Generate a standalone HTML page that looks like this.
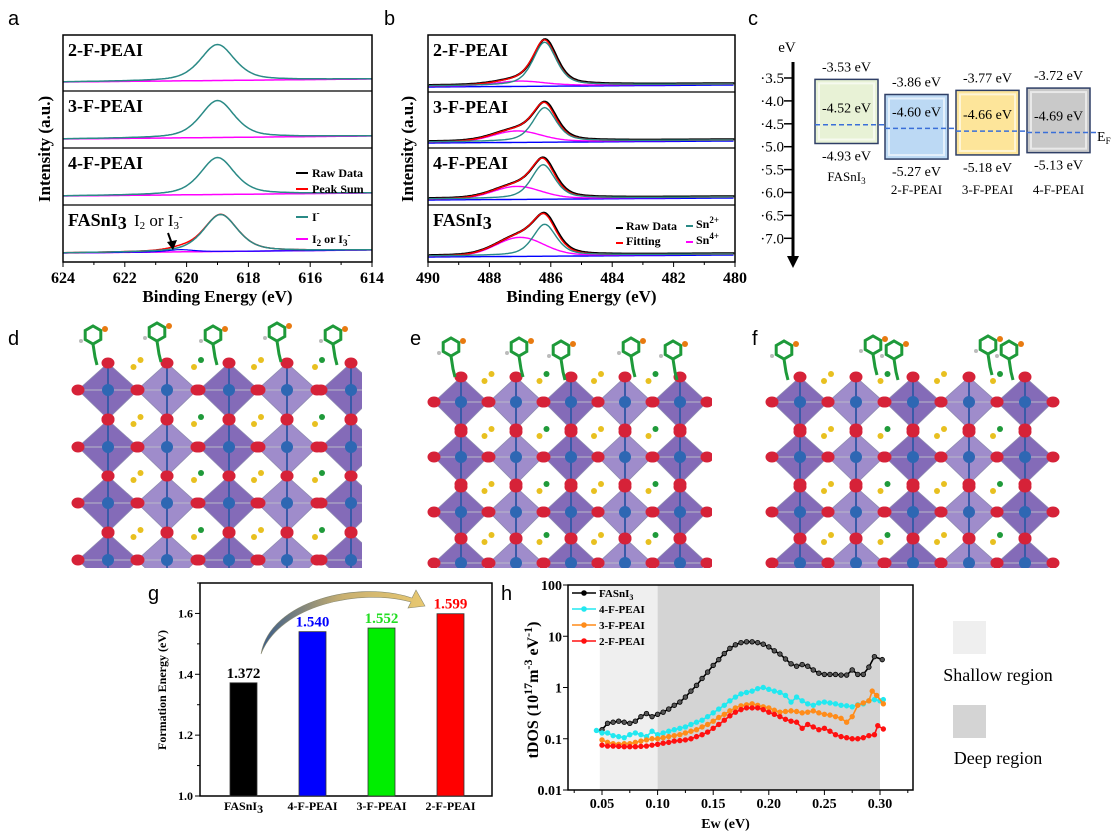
<!DOCTYPE html>
<html><head><meta charset="utf-8">
<style>
html,body{margin:0;padding:0;background:#fff;}
svg{display:block;font-family:"Liberation Serif",serif;}
.lab{font-family:"Liberation Sans",sans-serif;font-size:20px;}
</style></head>
<body>
<svg id="fig" width="1116" height="833" viewBox="0 0 1116 833" xmlns="http://www.w3.org/2000/svg">
<g id="pa"></g>
<g id="pb"></g>
<g id="pc"></g>
<g id="pd"></g>
<g id="pg"></g>
<g id="ph"></g>
</svg>
<script>
// ---------- data ----------
const aSamples = ["2-F-PEAI","3-F-PEAI","4-F-PEAI","FASnI3"];
const aIPeakCenter = [619.0, 619.0, 619.0, 618.9];
const aI3PeakHeight = [0, 0, 0, 0.06];
const bSamples = ["2-F-PEAI","3-F-PEAI","4-F-PEAI","FASnI3"];
const bSn2Height = [1.0, 0.80, 0.78, 0.72];
const bSn4Height = [0.10, 0.25, 0.28, 0.42];
const bSn2Center = [486.2, 486.2, 486.25, 486.2];
const bSn4Center = [487.0, 487.1, 487.1, 487.0];
const cNames = ["FASnI3","2-F-PEAI","3-F-PEAI","4-F-PEAI"];
const cCBM = [-3.53, -3.86, -3.77, -3.72];
const cVBM = [-4.93, -5.27, -5.18, -5.13];
const cEF = [-4.52, -4.60, -4.66, -4.69];
const cTicks = [-3.5,-4.0,-4.5,-5.0,-5.5,-6.0,-6.5,-7.0];
const gCats = ["FASnI3","4-F-PEAI","3-F-PEAI","2-F-PEAI"];
const gVals = [1.372, 1.540, 1.552, 1.599];
const gTicks = [1.0,1.2,1.4,1.6];
const hTicksX = [0.05,0.10,0.15,0.20,0.25,0.30];
const hTicksY = [0.01,0.1,1,10,100];
const hFA_x = [0.05,0.055,0.06,0.065,0.07,0.075,0.08,0.085,0.09,0.095,0.10,0.105,0.11,0.115,0.12,0.125,0.13,0.135,0.14,0.145,0.15,0.155,0.16,0.165,0.17,0.175,0.18,0.185,0.19,0.195,0.20,0.205,0.21,0.215,0.22,0.225,0.23,0.235,0.24,0.245,0.25,0.255,0.26,0.265,0.27,0.275,0.28,0.285,0.29,0.295,0.302];
const hFA_y = [0.15,0.2,0.21,0.22,0.21,0.2,0.22,0.27,0.31,0.27,0.3,0.33,0.38,0.45,0.52,0.65,0.85,1.1,1.5,2.0,2.7,3.5,4.6,5.8,6.8,7.5,7.8,7.8,7.5,7.0,6.2,5.2,4.5,3.6,2.9,2.6,2.8,2.6,2.2,1.9,1.8,1.8,1.8,1.75,1.75,2.2,1.8,1.8,2.5,4.0,3.5];
const h4F_x = [0.045,0.05,0.055,0.06,0.065,0.07,0.075,0.08,0.085,0.09,0.095,0.10,0.105,0.11,0.115,0.12,0.125,0.13,0.135,0.14,0.145,0.15,0.155,0.16,0.165,0.17,0.175,0.18,0.185,0.19,0.195,0.20,0.205,0.21,0.215,0.22,0.225,0.23,0.235,0.24,0.245,0.25,0.255,0.26,0.265,0.27,0.275,0.28,0.285,0.29,0.295,0.30,0.303];
const h4F_y = [0.145,0.13,0.13,0.115,0.11,0.105,0.12,0.13,0.12,0.11,0.14,0.12,0.13,0.14,0.15,0.16,0.17,0.19,0.21,0.23,0.27,0.32,0.38,0.45,0.55,0.65,0.75,0.8,0.85,0.95,1.0,0.92,0.85,0.8,0.7,0.52,0.65,0.55,0.48,0.45,0.5,0.52,0.5,0.48,0.45,0.44,0.42,0.46,0.48,0.55,0.58,0.55,0.58];
const h3F_x = [0.05,0.055,0.06,0.065,0.07,0.075,0.08,0.085,0.09,0.095,0.10,0.105,0.11,0.115,0.12,0.125,0.13,0.135,0.14,0.145,0.15,0.155,0.16,0.165,0.17,0.175,0.18,0.185,0.19,0.195,0.20,0.205,0.21,0.215,0.22,0.225,0.23,0.235,0.24,0.245,0.25,0.255,0.26,0.265,0.27,0.275,0.28,0.285,0.29,0.293,0.297,0.303];
const h3F_y = [0.095,0.085,0.08,0.078,0.08,0.08,0.085,0.09,0.095,0.1,0.1,0.105,0.11,0.115,0.12,0.13,0.14,0.15,0.17,0.19,0.22,0.26,0.3,0.35,0.4,0.44,0.46,0.48,0.45,0.42,0.4,0.36,0.33,0.34,0.35,0.34,0.32,0.33,0.35,0.32,0.3,0.29,0.27,0.25,0.21,0.27,0.45,0.5,0.55,0.85,0.7,0.48];
const h2F_x = [0.05,0.055,0.06,0.065,0.07,0.075,0.08,0.085,0.09,0.095,0.10,0.105,0.11,0.115,0.12,0.125,0.13,0.135,0.14,0.145,0.15,0.155,0.16,0.165,0.17,0.175,0.18,0.185,0.19,0.195,0.20,0.205,0.21,0.215,0.22,0.225,0.23,0.235,0.24,0.245,0.25,0.255,0.26,0.265,0.27,0.275,0.28,0.285,0.29,0.295,0.298,0.303];
const h2F_y = [0.075,0.072,0.072,0.071,0.07,0.07,0.07,0.071,0.072,0.075,0.078,0.082,0.085,0.09,0.092,0.095,0.1,0.11,0.12,0.135,0.16,0.19,0.23,0.28,0.33,0.37,0.4,0.4,0.4,0.37,0.33,0.3,0.27,0.24,0.22,0.21,0.16,0.19,0.17,0.15,0.16,0.14,0.12,0.11,0.105,0.1,0.1,0.105,0.115,0.12,0.18,0.155];

const NS="http://www.w3.org/2000/svg";
function el(parent, tag, attrs, text){
  const e=document.createElementNS(NS,tag);
  for(const k in attrs) e.setAttribute(k,attrs[k]);
  if(text!==undefined) e.textContent=text;
  parent.appendChild(e); return e;
}
function lor(x,c,w){const q=(x-c)/w;return 1/(1+q*q);}
function gau(x,c,w){const q=(x-c)/w;return Math.exp(-(q*q)*0.693);}
function pk(x,c,w){return 0.5*lor(x,c,w)+0.5*gau(x,c,w);}

// ---------- panel labels ----------
const F=document.getElementById('fig');
[["a",8,25],["b",384,25],["c",748,25],["d",8,345],["e",410,345],["f",752,345],["g",148,600],["h",501,600]].forEach(p=>{
  const t=el(F,'text',{x:p[1],y:p[2],class:'lab'},p[0]);
  
  
});

// ---------- panel a ----------
(function(){
  const g=document.getElementById('pa');
  const L=63,R=372,T=35,B=262;
  const xs=e=>L+(624-e)/10*(R-L);
  const bounds=[35,91,148,205,262];
  for(let i=0;i<4;i++){
    const top=bounds[i],bot=bounds[i+1],h=bot-top;
    const base=e=>bot-12+ (e-614)/10*3;
    const amp=h-20;
    let dI="",dBg="",dI3="",dSum="";
    for(let e=624;e>=614;e-=0.05){
      const x=xs(e).toFixed(1);
      const yb=base(e);
      const i3=aI3PeakHeight[i]*amp*pk(e,620.2,0.5);
      const v=amp*pk(e,aIPeakCenter[i],0.65);
      dI+=(dI?"L":"M")+x+","+(yb-v).toFixed(1);
      dBg+=(dBg?"L":"M")+x+","+yb.toFixed(1);
      dI3+=(dI3?"L":"M")+x+","+(yb-i3).toFixed(1);
      dSum+=(dSum?"L":"M")+x+","+(yb-v-i3).toFixed(1);
    }
    const p1=el(g,'path',{d:dBg,stroke:'#ff00ff',fill:'none','stroke-width':1.5});
     
    if(aI3PeakHeight[i]>0){
      const p2=el(g,'path',{d:dI3,stroke:'#0000ff',fill:'none','stroke-width':1.2});
       
      const p3=el(g,'path',{d:dSum,stroke:'#ff0000',fill:'none','stroke-width':1.5});
       
    }
    const p4=el(g,'path',{d:dI,stroke:'#2a8a86',fill:'none','stroke-width':1.5});
     
    const t=el(g,'text',{x:L+5,y:top+21,'font-size':18,'font-weight':'bold'},aSamples[i]==="FASnI3"?"FASnI":aSamples[i]);
     
    if(aSamples[i]==="FASnI3"){ el(t,'tspan',{dy:3},"3"); }
    if(i<3){ const l=el(g,'line',{x1:L,x2:R,y1:bot,y2:bot,stroke:'#000','stroke-width':1.2});
        }
  }
  const fr=el(g,'rect',{x:L,y:T,width:R-L,height:B-T,fill:'none',stroke:'#000','stroke-width':1.5});
   
  for(let e=624;e>=614;e-=1){
    const x=xs(e);
    el(g,'line',{x1:x,x2:x,y1:B,y2:B+(e%2===0?5:3),stroke:'#000'});
    if(e%2===0){const t=el(g,'text',{x:x,y:B+21,'font-size':16,'font-weight':'bold','text-anchor':'middle'},e);
       }
  }
  const xt=el(g,'text',{x:(L+R)/2,y:302,'font-size':17,'font-weight':'bold','text-anchor':'middle'},"Binding Energy (eV)");
   
  const yt=el(g,'text',{x:0,y:0,'font-size':17,'font-weight':'bold','text-anchor':'middle',transform:'translate(50,149) rotate(-90)'},"Intensity (a.u.)");
   
  const an=el(g,'text',{x:134,y:226,'font-size':17},"I");
   
  el(an,'tspan',{'font-size':11,dy:3},"2"); el(an,'tspan',{dy:-3}," or I"); el(an,'tspan',{'font-size':11,dy:3},"3"); el(an,'tspan',{'font-size':11,dy:-9},"-");
  el(g,'path',{d:'M168,233 L172,244',stroke:'#000','stroke-width':2});
  el(g,'path',{d:'M167,242 L173,250 L177,240 Z',fill:'#000'});
  const lg=[["Raw Data","#000",173],["Peak Sum","#f00",189]];
  lg.forEach(r=>{
    const l=el(g,'line',{x1:296,x2:308,y1:r[2],y2:r[2],stroke:r[1],'stroke-width':2});
     
    const t=el(g,'text',{x:312,y:r[2]+4,'font-size':12,'font-weight':'bold'},r[0]);
     
  });
  const l3=el(g,'line',{x1:296,x2:308,y1:217,y2:217,stroke:'#2a8a86','stroke-width':2});
   
  const t3=el(g,'text',{x:312,y:221,'font-size':12,'font-weight':'bold'},"I");
   
  el(t3,'tspan',{'font-size':9,dy:-5},"-");
  const l4=el(g,'line',{x1:296,x2:308,y1:239,y2:239,stroke:'#ff00ff','stroke-width':2});
   
  const t4=el(g,'text',{x:312,y:243,'font-size':12,'font-weight':'bold'},"I");
   
  el(t4,'tspan',{'font-size':9,dy:3},"2"); el(t4,'tspan',{dy:-3}," or I"); el(t4,'tspan',{'font-size':9,dy:3},"3"); el(t4,'tspan',{'font-size':9,dy:-8},"-");
})();

// ---------- panel b ----------
(function(){
  const g=document.getElementById('pb');
  const L=428,R=735,T=35,B=262;
  const xs=e=>L+(490-e)/10*(R-L);
  const bounds=[35,92,148,205,262];
  for(let i=0;i<4;i++){
    const top=bounds[i],bot=bounds[i+1],h=bot-top;
    const base=e=>bot-8+(e-480)/10*2;
    const amp=h-14;
    let d2="",d4="",ds="",db="";
    for(let e=490;e>=480;e-=0.05){
      const x=xs(e).toFixed(1), yb=base(e);
      const v2=amp*bSn2Height[i]*pk(e,bSn2Center[i],0.45);
      const v4=amp*bSn4Height[i]*gau(e,bSn4Center[i],0.9);
      d2+=(d2?"L":"M")+x+","+(yb-v2).toFixed(1);
      d4+=(d4?"L":"M")+x+","+(yb-v4).toFixed(1);
      ds+=(ds?"L":"M")+x+","+(yb-v2-v4).toFixed(1);
      db+=(db?"L":"M")+x+","+(yb+1).toFixed(1);
    }
    [[db,'#0000ff','b-background'],[d4,'#ff00ff','b-sn4-peak'],[ds,'#000','b-raw-data'],[ds,'#ff0000','b-fitting'],[d2,'#2a8a86','b-sn2-peak']].forEach((s,k)=>{
      const p=el(g,'path',{d:s[0],stroke:s[1],fill:'none','stroke-width':k===2?2.2:1.4,transform:k===2?'translate(0.8,-0.6)':'translate(0,0)'});
       
    });
    const t=el(g,'text',{x:L+5,y:top+21,'font-size':18,'font-weight':'bold'},bSamples[i]==="FASnI3"?"FASnI":bSamples[i]);
     
    if(bSamples[i]==="FASnI3"){ el(t,'tspan',{dy:3},"3"); }
    if(i<3){ el(g,'line',{x1:L,x2:R,y1:bot,y2:bot,stroke:'#000','stroke-width':1.2}); }
  }
  const fr=el(g,'rect',{x:L,y:T,width:R-L,height:B-T,fill:'none',stroke:'#000','stroke-width':1.5});
   
  for(let e=490;e>=480;e-=1){
    const x=xs(e);
    el(g,'line',{x1:x,x2:x,y1:B,y2:B+(e%2===0?5:3),stroke:'#000'});
    if(e%2===0){const t=el(g,'text',{x:x,y:B+21,'font-size':16,'font-weight':'bold','text-anchor':'middle'},e);
       }
  }
  const xt=el(g,'text',{x:(L+R)/2,y:302,'font-size':17,'font-weight':'bold','text-anchor':'middle'},"Binding Energy (eV)");
   
  const yt=el(g,'text',{x:0,y:0,'font-size':17,'font-weight':'bold','text-anchor':'middle',transform:'translate(413,149) rotate(-90)'},"Intensity (a.u.)");
   
  const lg=[["Raw Data","#000",616,226],["Fitting","#f00",616,241],["Sn2+","#2a8a86",686,224],["Sn4+","#ff00ff",686,240]];
  lg.forEach(r=>{
    el(g,'line',{x1:r[2],x2:r[2]+7,y1:r[3]+2,y2:r[3]+2,stroke:r[1],'stroke-width':2});
    const t=el(g,'text',{x:r[2]+10,y:r[3]+4,'font-size':12,'font-weight':'bold'},r[0].replace(/[24]\+/,''));
     
    const m=r[0].match(/[24]\+/); if(m) el(t,'tspan',{'font-size':9,dy:-5},m[0]);
  });
})();

// ---------- panel c ----------
(function(){
  const g=document.getElementById('pc');
  const ax=793;
  const ys=E=>78+(-3.5-E)/0.5*22.9;
  const ar=el(g,'line',{x1:ax,x2:ax,y1:62,y2:258,stroke:'#000','stroke-width':3});
   
  el(g,'path',{d:`M${ax-6},256 L${ax+6},256 L${ax},268 Z`,fill:'#000'});
  const u=el(g,'text',{x:787,y:52,'font-size':15,'text-anchor':'middle'},"eV");
   
  cTicks.forEach(v=>{
    const y=ys(v);
    el(g,'line',{x1:ax-9,x2:ax,y1:y,y2:y,stroke:'#000','stroke-width':1.5});
    const t=el(g,'text',{x:784,y:y+5,'font-size':15,'text-anchor':'end'},v.toFixed(1).replace('-','\u00b7'));
     
  });
  const fills=["#e8f2d6","#bcd9f4","#fde59a","#c9c9c9"];
  const xL=[815,885,956,1027];
  for(let i=0;i<4;i++){
    const x=xL[i],w=63,y1=ys(cCBM[i]),y2=ys(cVBM[i]);
    const r=el(g,'rect',{x:x,y:y1,width:w,height:y2-y1,fill:fills[i],stroke:'#2f3f66','stroke-width':1.5});
     
    el(g,'rect',{x:x+4,y:y1+4,width:w-8,height:y2-y1-8,fill:'none',stroke:'#fff','stroke-opacity':0.6,'stroke-width':2});
    const yf=ys(cEF[i]);
    const l=el(g,'line',{x1:x,x2:x+w+7,y1:yf,y2:yf,stroke:'#3a6fd8','stroke-width':1.5,'stroke-dasharray':'5,3'});
     
    [[cCBM[i],y1-8],[cEF[i],yf-12],[cVBM[i],y2+17]].forEach(q=>{
      const t=el(g,'text',{x:x+w/2,y:q[1],'font-size':14,'text-anchor':'middle'},q[0].toFixed(2)+" eV");
       
    });
    const nm=el(g,'text',{x:x+w/2,y:i===0?181:194,'font-size':13,'text-anchor':'middle'},cNames[i]==="FASnI3"?"FASnI":cNames[i]);
     
    if(cNames[i]==="FASnI3") el(nm,'tspan',{'font-size':9,dy:3},"3");
  }
  const ef=el(g,'text',{x:1097,y:141,'font-size':14},"E");
   
  el(ef,'tspan',{'font-size':9,dy:3},"F");
})();

// ---------- panels d,e,f (structures) ----------
(function(){
  const g=document.getElementById('pd');
  const panels=[
    {name:'d',cols:[108,167,229,287,351],rows:[390,447,503,560],hw:30,hh:27,clipX:[68,362],mol:[[93,335],[157,332],[213,335],[277,332],[333,335]]},
    {name:'e',cols:[461,516,571,625,680],rows:[402,457,512,563],hw:27,hh:25,clipX:[425,712],mol:[[451,347],[519,347],[561,350],[631,347],[673,350]]},
    {name:'f',cols:[800,856,913,969,1025],rows:[402,457,512,563],hw:28,hh:25,clipX:[765,1060],mol:[[784,350],[873,345],[894,350],[988,345],[1009,350]]}
  ];
  const defs=el(g,'defs',{});
  panels.forEach(P=>{
    const cp=el(defs,'clipPath',{id:'clip'+P.name});
    el(cp,'rect',{x:P.clipX[0],y:310,width:P.clipX[1]-P.clipX[0],height:258});
    const sg=el(g,'g',{'clip-path':`url(#clip${P.name})`});
    
    
    P.cols.forEach((cx,ci)=>P.rows.forEach(cy=>{
      el(sg,'path',{d:`M${cx},${cy-P.hh} L${cx+P.hw},${cy} L${cx},${cy+P.hh+2} L${cx-P.hw},${cy} Z`,fill:ci%2?'#9a86c8':'#7d63b4',stroke:'#8e8ab0','stroke-width':0.8,'fill-opacity':0.95});
      el(sg,'line',{x1:cx,x2:cx,y1:cy-P.hh,y2:cy+P.hh,stroke:'#3a5aa8','stroke-width':2});
      el(sg,'line',{x1:cx-P.hw,x2:cx+P.hw,y1:cy,y2:cy,stroke:'#b8b8c8','stroke-width':1});
    }));
    P.cols.forEach((cx,ci)=>P.rows.forEach(cy=>{
      if(ci<P.cols.length-1){const gx=(cx+P.cols[ci+1])/2;
        el(sg,'circle',{cx:gx-4,cy:cy-P.hh+4,r:3,fill:'#e8c020'});
        el(sg,'circle',{cx:gx+3,cy:cy-P.hh-3,r:3,fill:ci%2?'#1f9a3a':'#e8c020'});}
      el(sg,'circle',{cx:cx,cy:cy,r:6,fill:'#2e67b3'});
      [[0,-P.hh],[P.hw,0],[-P.hw,0],[0,P.hh+2]].forEach(o=>
        el(sg,'ellipse',{cx:cx+o[0],cy:cy+o[1],rx:6.5,ry:5.5,fill:'#d62238'}));
    }));
    P.mol.forEach(m=>{
      const r=9;let d="";
      for(let k=0;k<6;k++){const a=Math.PI/3*k+Math.PI/6;d+=(k?"L":"M")+(m[0]+r*Math.cos(a)).toFixed(1)+","+(m[1]+r*Math.sin(a)).toFixed(1);}
      const ring=el(g,'path',{d:d+'Z',fill:'none',stroke:'#1e9a3a','stroke-width':3});
       
      el(g,'path',{d:`M${m[0]},${m[1]+r} L${m[0]+2},${m[1]+22} L${m[0]+4},${m[1]+30}`,fill:'none',stroke:'#1e9a3a','stroke-width':3});
      el(g,'circle',{cx:m[0]+r+3,cy:m[1]-6,r:3,fill:'#e87a10'});
      el(g,'circle',{cx:m[0]-r-3,cy:m[1]+6,r:2,fill:'#bbb'});
    });
  });
})();

// ---------- panel g ----------
(function(){
  const g=document.getElementById('pg');
  const L=200,R=492,T=583,B=796;
  const ys=v=>B-(v-1.0)/0.7*(B-T);
  const bw=27, step=69, x0=243.5;
  const fr=el(g,'rect',{x:L,y:T,width:R-L,height:B-T,fill:'none',stroke:'#000','stroke-width':1.5});
  
  
  const colors=["#000000","#0000ff","#00ee00","#ff0000"];
  const labColors=["#000000","#0000ff","#22dd22","#ff0000"];
  gVals.forEach((v,i)=>{
    const cx=x0+i*step;
    const b=el(g,'rect',{x:cx-bw/2,y:ys(v),width:bw,height:B-ys(v),fill:colors[i],stroke:'#333','stroke-width':0.8});
     
    const t=el(g,'text',{x:cx,y:ys(v)-5,'font-size':15,'font-weight':'bold','text-anchor':'middle',fill:labColors[i]},v.toFixed(3));
     
    const c=el(g,'text',{x:cx,y:810,'font-size':12,'font-weight':'bold','text-anchor':'middle'},gCats[i]==="FASnI3"?"FASnI":gCats[i]);
     
    if(gCats[i]==="FASnI3") el(c,'tspan',{dy:3},"3");
  });
  for(let k=0;k<=7;k++){
    const y=ys(1.0+k*0.1);
    el(g,'line',{x1:L-(k%2===0?5:3),x2:L,y1:y,y2:y,stroke:'#000'});
  }
  gTicks.forEach(v=>{
    const t=el(g,'text',{x:L-7,y:ys(v)+4,'font-size':12,'font-weight':'bold','text-anchor':'end'},v.toFixed(1));
     
  });
  const yt=el(g,'text',{x:0,y:0,'font-size':12,'font-weight':'bold','text-anchor':'middle',transform:'translate(166,690) rotate(-90)'},"Formation Energy (eV)");
   
  const defs=el(g,'defs',{});
  const lgd=el(defs,'linearGradient',{id:'arrG',x1:0,y1:0,x2:1,y2:0});
  el(lgd,'stop',{offset:'0','stop-color':'#3a5c8a'});el(lgd,'stop',{offset:'0.5','stop-color':'#c9b070'});el(lgd,'stop',{offset:'1','stop-color':'#e8c870'});
  const a=el(g,'path',{d:'M261,654 C270,600 360,580 412,598 L416,590 L425,606 L408,608 L411,602 C360,588 280,605 261,654 Z',fill:'url(#arrG)',stroke:'#8a8a70','stroke-width':0.6});
   
})();

// ---------- panel h ----------
(function(){
  const g=document.getElementById('ph');
  const L=568,R=913,T=585,B=790;
  const xs=e=>602+(e-0.05)/0.25*278;
  const ys=v=>T+(2-Math.log10(v))*(B-T)/4;
  const s1=el(g,'rect',{x:xs(0.048),y:T,width:xs(0.10)-xs(0.048),height:B-T,fill:'#efefef'});
   
  const s2=el(g,'rect',{x:xs(0.10),y:T,width:xs(0.30)-xs(0.10),height:B-T,fill:'#d4d4d4'});
   
  const series=[[hFA_x,hFA_y,'#000','FASnI3'],[h4F_x,h4F_y,'#22e8f0','4-F-PEAI'],[h3F_x,h3F_y,'#ff8c1a','3-F-PEAI'],[h2F_x,h2F_y,'#ff1010','2-F-PEAI']];
  series.forEach(s=>{
    let d="";
    s[0].forEach((x,i)=>{d+=(i?"L":"M")+xs(x).toFixed(1)+","+ys(s[1][i]).toFixed(1);});
    const p=el(g,'path',{d:d,fill:'none',stroke:s[2],'stroke-width':1.6});
     
    s[0].forEach((x,i)=>{
      const c=el(g,'circle',{cx:xs(x),cy:ys(s[1][i]),r:2.3,fill:s[2]==='#000'?'#555':s[2],stroke:s[2],'stroke-width':0.8});
       
    });
  });
  const fr=el(g,'rect',{x:L,y:T,width:R-L,height:B-T,fill:'none',stroke:'#000','stroke-width':1.5});
  
  
  for(let k=1;k<=13;k++){
    const x=xs(k*0.025);
    el(g,'line',{x1:x,x2:x,y1:B,y2:B+(k%2===0?5:3),stroke:'#000'});
  }
  hTicksX.forEach(e=>{
    const t=el(g,'text',{x:xs(e),y:B+18,'font-size':14,'font-weight':'bold','text-anchor':'middle'},e.toFixed(2));
     
  });
  hTicksY.forEach(v=>{
    const y=ys(v);
    el(g,'line',{x1:L-5,x2:L,y1:y,y2:y,stroke:'#000'});
    const t=el(g,'text',{x:L-6,y:y+5,'font-size':14,'font-weight':'bold','text-anchor':'end'},String(v));
     
  });
  const xt=el(g,'text',{x:(L+R)/2-15,y:828,'font-size':14,'font-weight':'bold','text-anchor':'middle'},"Ew (eV)");
   
  const yt=el(g,'text',{x:0,y:0,'font-size':16,'font-weight':'bold','text-anchor':'middle',transform:'translate(538,690) rotate(-90)'},"tDOS (10");
   
  el(yt,'tspan',{'font-size':12,dy:-6},"17"); el(yt,'tspan',{dy:6},"m"); el(yt,'tspan',{'font-size':12,dy:-6},"-3"); el(yt,'tspan',{dy:6}," eV"); el(yt,'tspan',{'font-size':12,dy:-6},"-1"); el(yt,'tspan',{dy:6},")");
  series.forEach((s,i)=>{
    const y=593+i*16;
    el(g,'line',{x1:572,x2:596,y1:y,y2:y,stroke:s[2],'stroke-width':1.6});
    el(g,'circle',{cx:584,cy:y,r:2.3,fill:s[2],stroke:s[2]});
    const t=el(g,'text',{x:599,y:y+4,'font-size':11,'font-weight':'bold'},s[3]==="FASnI3"?"FASnI":s[3]);
     
    if(s[3]==="FASnI3") el(t,'tspan',{'font-size':8,dy:3},"3");
  });
  const r1=el(g,'rect',{x:953,y:621,width:33,height:33,fill:'#efefef'});
   
  const t1=el(g,'text',{x:998,y:681,'font-size':18,'text-anchor':'middle'},"Shallow region");
   
  const r2=el(g,'rect',{x:953,y:705,width:33,height:33,fill:'#d4d4d4'});
   
  const t2=el(g,'text',{x:998,y:764,'font-size':18,'text-anchor':'middle'},"Deep region");
   
})();
</script>
</body></html>
